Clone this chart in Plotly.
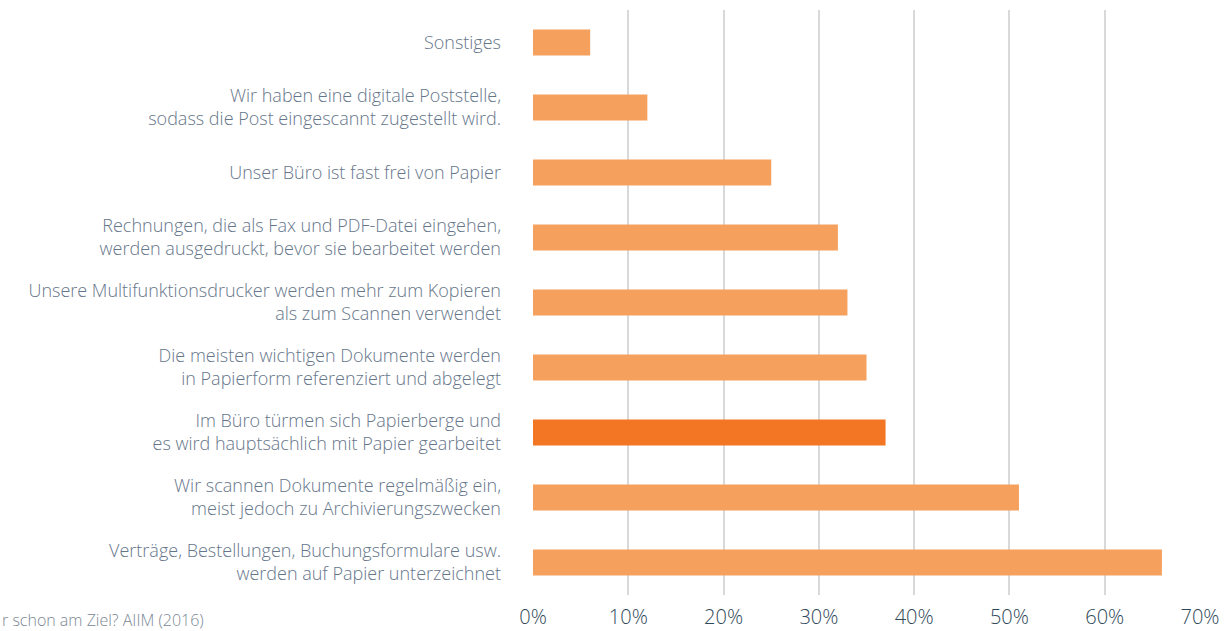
import plotly.graph_objects as go

categories = [
    "Sonstiges",
    "Wir haben eine digitale Poststelle,<br>sodass die Post eingescannt zugestellt wird.",
    "Unser Büro ist fast frei von Papier",
    "Rechnungen, die als Fax und PDF-Datei eingehen,<br>werden ausgedruckt, bevor sie bearbeitet werden",
    "Unsere Multifunktionsdrucker werden mehr zum Kopieren<br>als zum Scannen verwendet",
    "Die meisten wichtigen Dokumente werden<br>in Papierform referenziert und abgelegt",
    "Im Büro türmen sich Papierberge und<br>es wird hauptsächlich mit Papier gearbeitet",
    "Wir scannen Dokumente regelmäßig ein,<br>meist jedoch zu Archivierungszwecken",
    "Verträge, Bestellungen, Buchungsformulare usw.<br>werden auf Papier unterzeichnet",
]
values = [6, 12, 25, 32, 33, 35, 37, 51, 66]
highlight = [False, False, False, False, False, False, True, False, False]
tick_vals = [0, 10, 20, 30, 40, 50, 60, 70]
tick_text = ["0%", "10%", "20%", "30%", "40%", "50%", "60%", "70%"]
source_text = "r schon am Ziel? AIIM (2016)"

colors = ["#F27623" if h else "#F6A05E" for h in highlight]

fig = go.Figure(go.Bar(
    x=values, y=categories, orientation="h",
    marker=dict(color=colors, line=dict(width=0)),
    width=0.4,
    hoverinfo="x+y",
))

fig.update_layout(
    width=1232, height=631,
    margin=dict(l=533, r=32, t=10, b=36, autoexpand=False),
    paper_bgcolor="white", plot_bgcolor="white",
    showlegend=False,
    font=dict(family="Open Sans, sans-serif", color="#66768a", weight=300),
    xaxis=dict(
        range=[0, 70], tickvals=tick_vals, ticktext=tick_text,
        showgrid=True, gridcolor="#d9d9d9", gridwidth=2,
        zeroline=False, showline=False, ticks="", automargin=False,
        tickfont=dict(size=20, color="#2f4858", weight=300),
        ticklabelstandoff=8,
        fixedrange=True,
    ),
    yaxis=dict(
        autorange=False, showgrid=False, zeroline=False, showline=False,
        ticks="", ticklabelstandoff=31, automargin=False,
        tickfont=dict(size=18, color="#66768a", weight=300),
        range=[8.5, -0.5],
        fixedrange=True,
    ),
    annotations=[dict(
        text=source_text, xref="paper", yref="paper",
        x=-533 / (1232 - 533 - 32), y=0, yshift=-25, xanchor="left", yanchor="middle",
        showarrow=False, font=dict(size=16, color="#7b8794", weight=300),
    )],
)

fig.write_html(
    "out.html",
    config={"displayModeBar": False},
    post_script="document.body.style.margin='0';document.body.style.overflow='hidden';",
)
